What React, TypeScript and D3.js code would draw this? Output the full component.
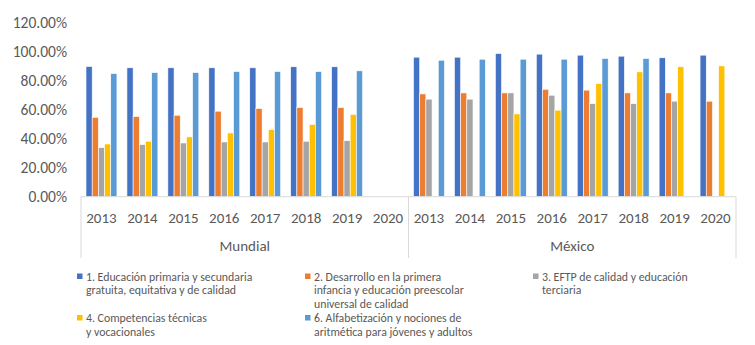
import React from "react";
import * as d3 from "d3";

const years = ["2013", "2014", "2015", "2016", "2017", "2018", "2019", "2020"];
const groups = ["Mundial", "México"];
const seriesNames = [
  "1. Educación primaria y secundaria gratuita, equitativa y de calidad",
  "2. Desarrollo en la primera infancia y educación preescolar universal de calidad",
  "3. EFTP de calidad y educación terciaria",
  "4. Competencias técnicas y vocacionales",
  "6. Alfabetización y nociones de aritmética para jóvenes y adultos",
];
const seriesColors = ["#4472C4", "#ED7D31", "#A5A5A5", "#FFC000", "#5B9BD5"];
// values per series: 16 categories (Mundial 2013-2020, México 2013-2020); null = no bar
const s1 = [0.897, 0.888, 0.888, 0.888, 0.888, 0.895, 0.895, null, 0.961, 0.961, 0.986, 0.982, 0.975, 0.968, 0.957, 0.975];
const s2 = [0.547, 0.552, 0.561, 0.589, 0.607, 0.614, 0.614, null, 0.708, 0.715, 0.715, 0.740, 0.734, 0.715, 0.715, 0.658];
const s3 = [0.338, 0.359, 0.370, 0.377, 0.377, 0.382, 0.386, null, 0.672, 0.672, 0.715, 0.699, 0.641, 0.641, 0.658, null];
const s4 = [0.363, 0.382, 0.412, 0.439, 0.462, 0.497, 0.566, null, null, null, 0.570, 0.596, 0.779, 0.860, 0.895, 0.901];
const s6 = [0.848, 0.855, 0.855, 0.862, 0.862, 0.862, 0.867, null, 0.940, 0.947, 0.947, 0.947, 0.952, 0.952, null, null];
const yTicks = [0, 0.2, 0.4, 0.6, 0.8, 1.0, 1.2];

const legendLines = [
  ["1. Educación primaria y secundaria", "gratuita, equitativa y de calidad"],
  ["2. Desarrollo en la primera", "infancia y educación preescolar", "universal de calidad"],
  ["3. EFTP de calidad y educación", "terciaria"],
  ["4. Competencias técnicas", "y vocacionales"],
  ["6. Alfabetización y nociones de", "aritmética para jóvenes y adultos"],
];

const FONT = "Carlito, Calibri, 'Liberation Sans Narrow', 'Open Sans', sans-serif";

export default function App() {
  const W = 755, H = 345;
  const left = 81, right = 736, top = 22.5, bottom = 196.7;
  const series = [s1, s2, s3, s4, s6];
  const cats = groups.flatMap((g) => years.map((y) => g + "|" + y));
  const x = d3.scaleBand<string>().domain(cats).range([left, right]).paddingInner(0).paddingOuter(0);
  const inner = d3.scaleBand<number>().domain(d3.range(series.length)).range([5, x.bandwidth() - 5]);
  const y = d3.scaleLinear().domain([0, 1.2]).range([bottom, top]);
  const fmt = (v: number) => (v * 100).toFixed(2) + "%";
  const groupW = x.bandwidth() * years.length;
  const legendPos = [
    [77, 276.5], [305, 276.5], [533, 276.5], [77, 318], [305, 318],
  ];
  return (
    <svg width={W} height={H} style={{ position: "absolute", left: 0, top: 0, background: "#fff" }} fontFamily={FONT}>
      {yTicks.map((t) => (
        <text key={t} x={67} y={y(t)} dy="0.35em" textAnchor="end" fontSize={15.5} fill="#595959">{fmt(t)}</text>
      ))}
      {series.map((vals, si) =>
        vals.map((v, ci) =>
          v == null ? null : (
            <rect key={si + "-" + ci}
              x={(x(cats[ci]) as number) + (inner(si) as number)}
              y={y(v)} width={inner.bandwidth()} height={bottom - y(v)}
              fill={seriesColors[si]} stroke="#fff" strokeWidth={0.6} />
          )
        )
      )}
      <line x1={left} x2={right} y1={bottom} y2={bottom} stroke="#d9d9d9" strokeWidth={1} />
      {[0, 1, 2].map((i) => (
        <line key={i} x1={left + i * groupW} x2={left + i * groupW} y1={bottom} y2={258} stroke="#d9d9d9" strokeWidth={1} />
      ))}
      {cats.map((c) => (
        <text key={c} x={(x(c) as number) + x.bandwidth() / 2} y={218} dy="0.35em" textAnchor="middle" fontSize={15} fill="#595959">{c.split("|")[1]}</text>
      ))}
      {groups.map((g, i) => (
        <text key={g} x={left + groupW * (i + 0.5)} y={246} dy="0.35em" textAnchor="middle" fontSize={15} fill="#595959">{g}</text>
      ))}
      {legendLines.map((lines, i) => (
        <g key={i} transform={`translate(${legendPos[i][0]},${legendPos[i][1]})`}>
          <rect x={0} y={-3} width={5.5} height={5.5} fill={seriesColors[i]} />
          <text x={9} y={0} fontSize={11.8} fill="#595959">
            {lines.map((l, j) => (
              <tspan key={j} x={9} dy={j === 0 ? "0.35em" : 13.5}>{l}</tspan>
            ))}
          </text>
        </g>
      ))}
    </svg>
  );
}
